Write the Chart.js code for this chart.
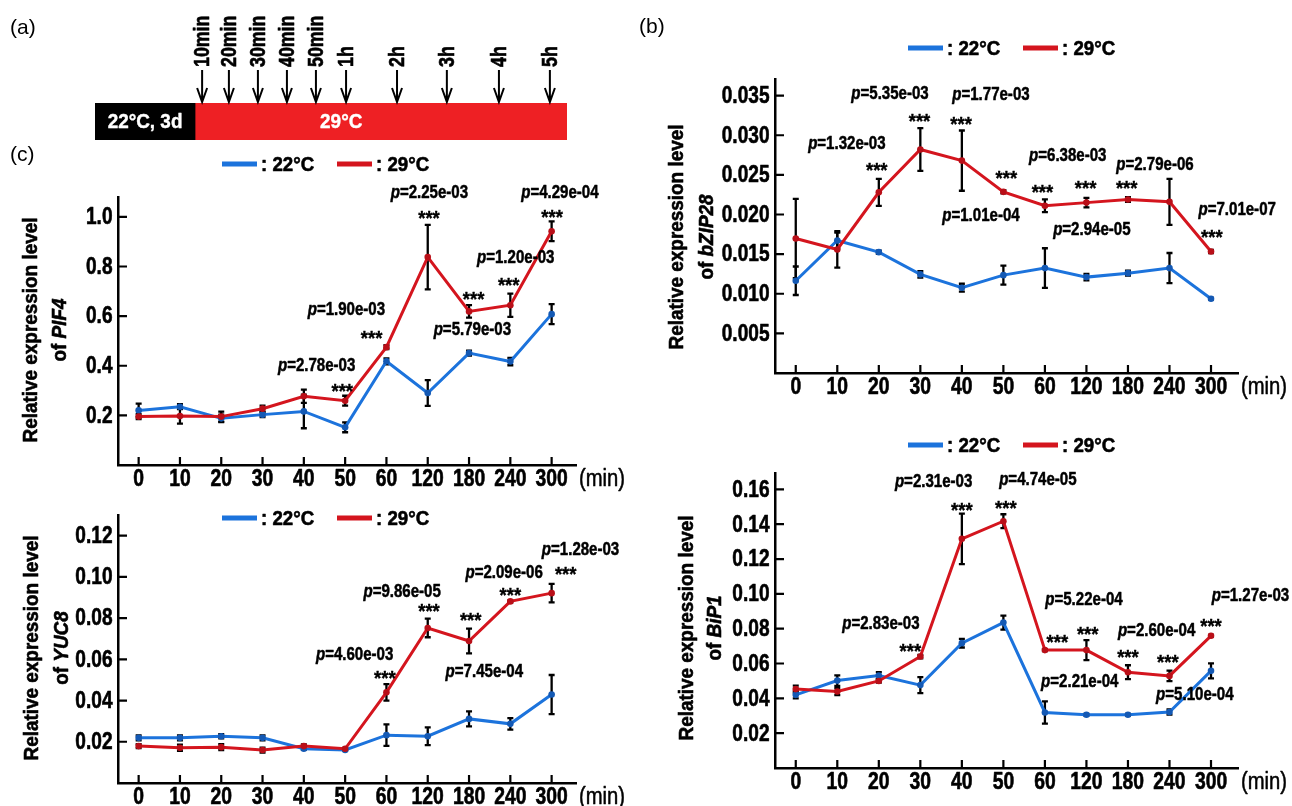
<!DOCTYPE html>
<html>
<head>
<meta charset="utf-8">
<script src="https://cdn.jsdelivr.net/npm/chart.js@4/dist/chart.umd.min.js"></script>
<style>
html, body { margin: 0; padding: 0; background: #fff; }
#page { position: relative; width: 1292px; height: 806px; overflow: hidden; }
#page canvas { position: absolute; left: 0; top: 0; }
</style>
</head>
<body>
<div id="page">
  <canvas id="timeline" width="1292" height="806"></canvas>
  <canvas id="pif4" width="1292" height="806"></canvas>
  <canvas id="yuc8" width="1292" height="806"></canvas>
  <canvas id="bzip28" width="1292" height="806"></canvas>
  <canvas id="bip1" width="1292" height="806"></canvas>
</div>
<script>
// sampling times (min) shared by every panel
const timeLabels = ['0', '10', '20', '30', '40', '50', '60', '120', '180', '240', '300'];
const seriesNames = ['22°C', '29°C'];

// (a) treatment scheme
const stageNames = ['22°C, 3d', '29°C'];
const stageSpans = [[-2.69, 0], [0, 10]];
const stageTextAt = [-1.345, 3.93];
const sampleNames = ['10min', '20min', '30min', '40min', '50min', '1h', '2h', '3h', '4h', '5h'];
const samplePos = [0.19, 0.91, 1.69, 2.47, 3.25, 4.06, 5.43, 6.77, 8.17, 9.54];

// (c) PIF4
const pif4Ticks = [0.2, 0.4, 0.6, 0.8, 1.0];
const pif4Cold = [0.220, 0.235, 0.188, 0.203, 0.216, 0.152, 0.418, 0.290, 0.451, 0.417, 0.608];
const pif4ColdErr = [0.027, 0.010, 0.015, 0.010, 0.068, 0.020, 0.012, 0.052, 0.010, 0.015, 0.040];
const pif4Warm = [0.195, 0.197, 0.195, 0.227, 0.277, 0.259, 0.475, 0.838, 0.619, 0.644, 0.942];
const pif4WarmErr = [0.010, 0.030, 0.020, 0.012, 0.027, 0.020, 0.008, 0.130, 0.025, 0.047, 0.040];
const pif4Notes = [
  [4.31, 0.398, 'p=2.78e-03'], [4.93, 0.321, '***'],
  [5.03, 0.624, 'p=1.90e-03'], [5.64, 0.531, '***'],
  [7.04, 1.097, 'p=2.25e-03'], [7.03, 1.016, '***'],
  [9.13, 0.834, 'p=1.20e-03'], [8.96, 0.745, '***'], [8.11, 0.689, '***'],
  [8.08, 0.543, 'p=5.79e-03'],
  [10.2, 1.097, 'p=4.29e-04'], [10.01, 1.020, '***']
];

// (c) YUC8
const yuc8Ticks = [0.02, 0.04, 0.06, 0.08, 0.10, 0.12];
const yuc8Cold = [0.0219, 0.0219, 0.0227, 0.0219, 0.0166, 0.0160, 0.0232, 0.0227, 0.0311, 0.0287, 0.0429];
const yuc8ColdErr = [0.0012, 0.0012, 0.0010, 0.0012, 0.0005, 0.0003, 0.0052, 0.0043, 0.0036, 0.0028, 0.0095];
const yuc8Warm = [0.0179, 0.0171, 0.0174, 0.0160, 0.0179, 0.0166, 0.0440, 0.0752, 0.0689, 0.0881, 0.0921];
const yuc8WarmErr = [0.0010, 0.0015, 0.0015, 0.0012, 0.0008, 0.0004, 0.0040, 0.0045, 0.0060, 0.0005, 0.0045];
const yuc8Notes = [
  [10.7, 0.1128, 'p=1.28e-03'], [10.34, 0.1040, '***'],
  [8.85, 0.1016, 'p=2.09e-06'], [9.0, 0.0935, '***'],
  [6.38, 0.0927, 'p=9.86e-05'], [7.03, 0.0858, '***'], [8.04, 0.0815, '***'],
  [5.23, 0.0618, 'p=4.60e-03'], [5.96, 0.0536, '***'],
  [8.37, 0.0536, 'p=7.45e-04']
];

// (b) bZIP28
const bzipTicks = [0.005, 0.010, 0.015, 0.020, 0.025, 0.030, 0.035];
const bzipCold = [0.01164, 0.01672, 0.01525, 0.01244, 0.01076, 0.01235, 0.01324, 0.0121, 0.0126, 0.01324, 0.00937];
const bzipColdErr = [0.0018, 0.0010, 0.0002, 0.0004, 0.0005, 0.0012, 0.0025, 0.0004, 0.0003, 0.0019, 0.0001];
const bzipWarm = [0.01697, 0.01559, 0.0228, 0.0282, 0.0268, 0.02286, 0.0211, 0.0215, 0.0219, 0.0216, 0.01534];
const bzipWarmErr = [0.0050, 0.0023, 0.0017, 0.0027, 0.0038, 0.0002, 0.0008, 0.0006, 0.0003, 0.0029, 0.0002];
const bzipNotes = [
  [2.27, 0.0352, 'p=5.35e-03'], [4.7, 0.0351, 'p=1.77e-03'],
  [2.98, 0.03247, '***'], [3.98, 0.03205, '***'],
  [1.23, 0.0289, 'p=1.32e-03'], [1.95, 0.02626, '***'],
  [5.07, 0.02525, '***'],
  [6.55, 0.0273, 'p=6.38e-03'], [8.65, 0.02626, 'p=2.79e-06'],
  [5.94, 0.02353, '***'], [6.98, 0.02395, '***'], [7.97, 0.02395, '***'],
  [4.46, 0.01975, 'p=1.01e-04'], [7.13, 0.01799, 'p=2.94e-05'],
  [10.63, 0.02059, 'p=7.01e-07'], [10.02, 0.01786, '***']
];

// (b) BiP1
const bipTicks = [0.02, 0.04, 0.06, 0.08, 0.10, 0.12, 0.14, 0.16];
const bipCold = [0.0420, 0.0502, 0.0531, 0.0476, 0.0717, 0.0835, 0.0319, 0.0306, 0.0306, 0.0321, 0.0558];
const bipColdErr = [0.0020, 0.0030, 0.0020, 0.0046, 0.0025, 0.0040, 0.0064, 0.0005, 0.0005, 0.0015, 0.0043];
const bipWarm = [0.0453, 0.0439, 0.0500, 0.0640, 0.1316, 0.1417, 0.0677, 0.0677, 0.0550, 0.0529, 0.0759];
const bipWarmErr = [0.0020, 0.0020, 0.0010, 0.0010, 0.0145, 0.0040, 0.0005, 0.0057, 0.0040, 0.0030, 0.0005];
const bipNotes = [
  [3.32, 0.1642, 'p=2.31e-03'], [5.83, 0.1651, 'p=4.74e-05'],
  [4.0, 0.1512, '***'], [5.06, 0.1521, '***'],
  [2.05, 0.0828, 'p=2.83e-03'], [2.76, 0.0702, '***'],
  [6.94, 0.0966, 'p=5.22e-04'], [6.3, 0.0752, '***'], [7.03, 0.0800, '***'],
  [8.69, 0.0784, 'p=2.60e-04'], [8.0, 0.0669, '***'], [8.96, 0.0640, '***'],
  [10.0, 0.0847, '***'], [10.95, 0.0985, 'p=1.27e-03'],
  [6.84, 0.0493, 'p=2.21e-04'], [9.61, 0.0420, 'p=5.10e-04']
];

const SANS = "'Liberation Sans', Arial, sans-serif";
const BLUE = '#1c73dc';
const BLUE_DOT = '#1459b4';
const RED = '#d4151e';
const RED_DOT = '#b90f18';
const Y_AXIS_W = 60;
const X_AXIS_H = 30;

// draws text runs squeezed sideways so Liberation Sans reads like a narrow, heavy face
function say(ctx, runs, x, y, o) {
  if (typeof runs === 'string') runs = [{ t: runs }];
  ctx.save();
  ctx.translate(x, y);
  if (o.rot) ctx.rotate(o.rot);
  ctx.scale(o.squeeze || 0.82, 1);
  ctx.textBaseline = o.baseline || 'middle';
  ctx.textAlign = 'left';
  ctx.fillStyle = o.color || '#000';
  ctx.strokeStyle = o.color || '#000';
  ctx.lineWidth = o.heavy || 0;
  ctx.lineJoin = 'round';
  const fontOf = (r) => `${r.italic ? 'italic ' : ''}${o.weight || 'bold'} ${o.size}px ${SANS}`;
  const widths = runs.map((r) => { ctx.font = fontOf(r); return ctx.measureText(r.t).width; });
  const total = widths.reduce((a, b) => a + b, 0);
  let cx = o.align === 'center' ? -total / 2 : o.align === 'right' ? -total : 0;
  runs.forEach((r, i) => {
    ctx.font = fontOf(r);
    ctx.fillText(r.t, cx, 0);
    if (o.heavy) ctx.strokeText(r.t, cx, 0);
    cx += widths[i];
  });
  ctx.restore();
}

// black error bars under the lines
const errorBars = {
  id: 'errorBars',
  beforeDatasetsDraw(chart) {
    const ctx = chart.ctx;
    const ys = chart.scales.y;
    ctx.save();
    ctx.strokeStyle = '#000';
    ctx.lineWidth = 2.3;
    chart.data.datasets.forEach((ds, di) => {
      const meta = chart.getDatasetMeta(di);
      meta.data.forEach((pt, i) => {
        const v = ds.data[i].y, e = ds.errs[i];
        const top = ys.getPixelForValue(v + e), bot = ys.getPixelForValue(v - e);
        ctx.beginPath();
        ctx.moveTo(pt.x, top); ctx.lineTo(pt.x, bot);
        ctx.moveTo(pt.x - 3, top); ctx.lineTo(pt.x + 3, top);
        ctx.moveTo(pt.x - 3, bot); ctx.lineTo(pt.x + 3, bot);
        ctx.stroke();
      });
    });
    ctx.restore();
  }
};

// inward ticks, tick labels, legend, axis title, (min) and p-value notes
const decor = {
  id: 'decor',
  afterDraw(chart, args, opts) {
    const ctx = chart.ctx;
    const xs = chart.scales.x, ys = chart.scales.y, area = chart.chartArea;

    ctx.save();
    ctx.strokeStyle = '#000';
    ctx.lineWidth = 2.2;
    ctx.beginPath();
    xs.ticks.forEach((t) => {
      const x = xs.getPixelForValue(t.value);
      ctx.moveTo(x, area.bottom); ctx.lineTo(x, area.bottom - 8);
    });
    ys.ticks.forEach((t) => {
      const y = ys.getPixelForValue(t.value);
      ctx.moveTo(area.left, y); ctx.lineTo(area.left + 9, y);
    });
    ctx.stroke();
    ctx.restore();

    xs.ticks.forEach((t) => {
      say(ctx, timeLabels[t.value], xs.getPixelForValue(t.value), area.bottom + 20.5,
        { size: 23, squeeze: 0.84, align: 'center', baseline: 'alphabetic', heavy: 0.6 });
    });
    ys.ticks.forEach((t) => {
      say(ctx, t.value.toFixed(opts.digits), area.left - 5.5, ys.getPixelForValue(t.value) + 1,
        { size: 23, squeeze: 0.83, align: 'right', heavy: 0.6 });
    });
    say(ctx, '(min)', area.right + 3, area.bottom + 20.5,
      { size: 23, weight: 'normal', squeeze: 0.88, baseline: 'alphabetic', heavy: 0.5 });

    const lg = opts.legend;
    [[BLUE, seriesNames[0], 0], [RED, seriesNames[1], 115]].forEach(([c, name, dx]) => {
      ctx.fillStyle = c;
      ctx.fillRect(lg.x + dx, lg.y - 2.5, 35, 5);
      say(ctx, ': ' + name, lg.x + dx + 39, lg.y + 1, { size: 21, squeeze: 0.89, heavy: 0.6 });
    });

    const t = opts.title;
    say(ctx, 'Relative expression level', t.x1, t.cy,
      { size: 20, squeeze: 0.945, align: 'center', rot: -Math.PI / 2, heavy: 0.6 });
    say(ctx, [{ t: 'of ' }, { t: t.gene, italic: true }], t.x2, t.cy,
      { size: 20, squeeze: 0.945, align: 'center', rot: -Math.PI / 2, heavy: 0.6 });

    opts.notes.forEach(([xi, v, text]) => {
      const px = xs.getPixelForValue(xi), py = ys.getPixelForValue(v);
      if (text.startsWith('p=')) {
        say(ctx, [{ t: 'p', italic: true }, { t: text.slice(1) }], px, py,
          { size: 17.5, squeeze: 0.86, align: 'center', heavy: 0.5 });
      } else {
        say(ctx, text, px, py + 0.58 * 21, { size: 21, align: 'center', baseline: 'alphabetic', squeeze: 0.88, heavy: 0.4 });
      }
    });
  }
};

function makePanel(id, o) {
  const series = (vals) => vals.map((v, i) => ({ x: i, y: v }));
  new Chart(document.getElementById(id), {
    type: 'line',
    data: {
      datasets: [
        { label: seriesNames[1], data: series(o.warm), errs: o.warmErr, borderColor: RED, backgroundColor: RED_DOT,
          borderWidth: 3, pointRadius: 3.3, pointBorderWidth: 0, tension: 0 },
        { label: seriesNames[0], data: series(o.cold), errs: o.coldErr, borderColor: BLUE, backgroundColor: BLUE_DOT,
          borderWidth: 3, pointRadius: 3.3, pointBorderWidth: 0, tension: 0 }
      ]
    },
    options: {
      responsive: false,
      animation: false,
      events: [],
      layout: {
        padding: {
          left: o.area.left - Y_AXIS_W,
          top: o.area.top,
          right: 1292 - o.area.right,
          bottom: 806 - o.area.bottom - X_AXIS_H
        }
      },
      scales: {
        x: {
          type: 'linear',
          min: -0.5,
          max: o.xMax,
          afterBuildTicks: (s) => { s.ticks = timeLabels.map((_, i) => ({ value: i })); },
          afterFit: (s) => { s.height = X_AXIS_H; },
          ticks: { display: false },
          grid: { display: false },
          border: { display: true, color: '#000', width: 2.5 }
        },
        y: {
          min: 0,
          max: o.yMax,
          afterBuildTicks: (s) => { s.ticks = o.ticks.map((v) => ({ value: v })); },
          afterFit: (s) => { s.width = Y_AXIS_W; },
          ticks: { display: false },
          grid: { display: false },
          border: { display: true, color: '#000', width: 2.5 }
        }
      },
      plugins: {
        legend: { display: false },
        tooltip: { enabled: false },
        decor: { legend: o.legend, title: o.title, notes: o.notes, digits: o.digits }
      }
    },
    plugins: [errorBars, decor]
  });
}

makePanel('pif4', {
  cold: pif4Cold, coldErr: pif4ColdErr, warm: pif4Warm, warmErr: pif4WarmErr,
  ticks: pif4Ticks, digits: 1, yMax: 1.08, xMax: 10.59,
  area: { left: 118, right: 576, top: 197, bottom: 465 },
  legend: { x: 222, y: 164 },
  title: { x1: 31, x2: 60, cy: 330, gene: 'PIF4' },
  notes: pif4Notes
});

makePanel('yuc8', {
  cold: yuc8Cold, coldErr: yuc8ColdErr, warm: yuc8Warm, warmErr: yuc8WarmErr,
  ticks: yuc8Ticks, digits: 2, yMax: 0.13, xMax: 10.59,
  area: { left: 118, right: 576, top: 515, bottom: 783 },
  legend: { x: 222, y: 518 },
  title: { x1: 32, x2: 62, cy: 648, gene: 'YUC8' },
  notes: yuc8Notes
});

makePanel('bzip28', {
  cold: bzipCold, coldErr: bzipColdErr, warm: bzipWarm, warmErr: bzipWarmErr,
  ticks: bzipTicks, digits: 3, yMax: 0.0371, xMax: 10.65,
  area: { left: 775, right: 1238, top: 79, bottom: 373 },
  legend: { x: 908, y: 48 },
  title: { x1: 677, x2: 707, cy: 237, gene: 'bZIP28' },
  notes: bzipNotes
});

makePanel('bip1', {
  cold: bipCold, coldErr: bipColdErr, warm: bipWarm, warmErr: bipWarmErr,
  ticks: bipTicks, digits: 2, yMax: 0.1694, xMax: 10.65,
  area: { left: 775, right: 1238, top: 473, bottom: 768 },
  legend: { x: 908, y: 445 },
  title: { x1: 687, x2: 715, cy: 628, gene: 'BiP1' },
  notes: bipNotes
});

// (a) scheme: arrows and labels over the two stage bars, plus panel tags
const arrows = {
  id: 'arrows',
  afterDraw(chart) {
    const ctx = chart.ctx;
    const xs = chart.scales.x, area = chart.chartArea;
    ctx.save();
    ctx.strokeStyle = '#000';
    ctx.lineWidth = 2;
    samplePos.forEach((p, i) => {
      const x = xs.getPixelForValue(p);
      const tip = area.top - 1;
      ctx.beginPath();
      ctx.moveTo(x, 70); ctx.lineTo(x, tip);
      ctx.moveTo(x - 5, tip - 14); ctx.lineTo(x, tip); ctx.lineTo(x + 5, tip - 14);
      ctx.stroke();
      say(ctx, sampleNames[i], x + 1, 67, { size: 22.5, squeeze: 0.79, rot: -Math.PI / 2, heavy: 0.6 });
    });
    ctx.restore();
    stageNames.forEach((n, i) => {
      say(ctx, n, xs.getPixelForValue(stageTextAt[i]), (area.top + area.bottom) / 2 + 1,
        { size: 21, align: 'center', color: '#fff', squeeze: 0.9, heavy: 0.4 });
    });
    [['(a)', 10, 28], ['(b)', 639, 27], ['(c)', 10, 155]].forEach(([t, x, y]) => {
      say(ctx, t, x, y, { size: 21, weight: 'normal', squeeze: 1 });
    });
  }
};

new Chart(document.getElementById('timeline'), {
  type: 'bar',
  data: {
    labels: [''],
    datasets: [
      { data: [stageSpans[0]], backgroundColor: '#000', borderWidth: 0 },
      { data: [stageSpans[1]], backgroundColor: '#ee2024', borderWidth: 0 }
    ]
  },
  options: {
    indexAxis: 'y',
    responsive: false,
    animation: false,
    events: [],
    layout: { padding: { left: 95, right: 1292 - 567, top: 103, bottom: 806 - 140 } },
    datasets: { bar: { grouped: false, barPercentage: 1, categoryPercentage: 1 } },
    scales: {
      x: { display: false, min: stageSpans[0][0], max: stageSpans[1][1] },
      y: { display: false }
    },
    plugins: { legend: { display: false }, tooltip: { enabled: false } }
  },
  plugins: [arrows]
});
</script>
</body>
</html>
